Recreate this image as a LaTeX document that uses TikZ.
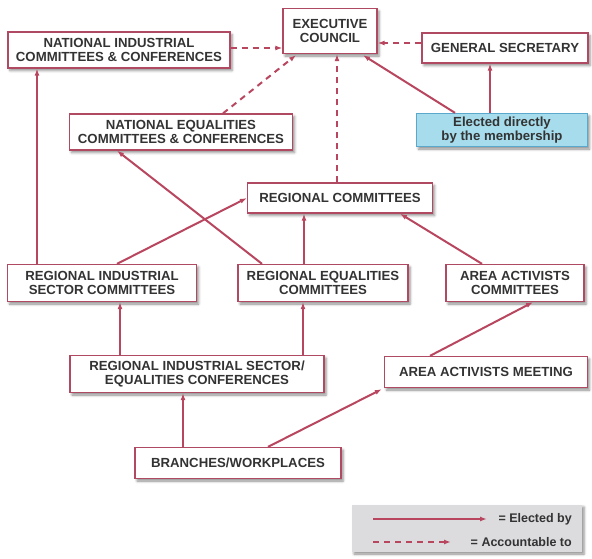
\documentclass[tikz,border=0pt]{standalone}
\usepackage{fontspec}
\setmainfont{Liberation Sans}
\usetikzlibrary{shadows.blur,arrows.meta,calc}
\definecolor{boxline}{HTML}{B04A63}
\definecolor{arrowred}{HTML}{B8465F}
\definecolor{txt}{HTML}{333333}
\definecolor{bluefill}{HTML}{A6DCEC}
\definecolor{blueline}{HTML}{5AA8CC}
\definecolor{legendgray}{HTML}{DCDCDF}
\begin{document}
\begin{tikzpicture}[x=1pt,y=-1pt,
  shade/.style={blur shadow={shadow xshift=2pt, shadow yshift=-2.5pt, shadow blur radius=2.5pt, shadow opacity=45}},
  box/.style={draw=boxline, line width=1.3pt, fill=white, align=center,
    font=\bfseries\fontsize{13.2}{14.5}\selectfont, text=txt, inner sep=0pt, shade},
  bluebox/.style={box, draw=blueline, fill=bluefill},
  el/.style={draw=arrowred, line width=2pt, -{Latex[length=7pt,width=5pt]}},
  acc/.style={el, dash pattern=on 6pt off 5pt},
  legtext/.style={font=\bfseries\fontsize{12.5}{14.5}\selectfont, text=txt, anchor=east, inner sep=0pt},
]
\useasboundingbox (0,0) rectangle (592,558);

% boxes
\node[box, minimum width=94pt,  minimum height=45pt] (exec)     at (330,31)  {EXECUTIVE\\COUNCIL};
\node[box, minimum width=222pt, minimum height=36pt] (natind)   at (119,50)  {NATIONAL INDUSTRIAL\\COMMITTEES \& CONFERENCES};
\node[box, minimum width=166pt, minimum height=30pt] (gensec)   at (505,48)  {GENERAL SECRETARY};
\node[bluebox, minimum width=171pt, minimum height=33pt] (elect) at (502,130) {Elected directly\\by the membership};
\node[box, minimum width=223pt, minimum height=36pt] (nateq)    at (181,132) {NATIONAL EQUALITIES\\COMMITTEES \& CONFERENCES};
\node[box, minimum width=185pt, minimum height=30pt] (regcom)   at (340,198) {REGIONAL COMMITTEES};
\node[box, minimum width=189pt, minimum height=37pt] (regind)   at (102,283) {REGIONAL INDUSTRIAL\\SECTOR COMMITTEES};
\node[box, minimum width=170pt, minimum height=37pt] (regeq)    at (323,283) {REGIONAL EQUALITIES\\COMMITTEES};
\node[box, minimum width=138pt, minimum height=37pt] (areacom)  at (515,283) {AREA ACTIVISTS\\COMMITTEES};
\node[box, minimum width=254pt, minimum height=37pt] (conf)     at (197,374) {REGIONAL INDUSTRIAL SECTOR/\\EQUALITIES CONFERENCES};
\node[box, minimum width=203pt, minimum height=31pt] (areameet) at (486,372) {AREA ACTIVISTS MEETING};
\node[box, minimum width=206pt, minimum height=31pt] (branch)   at (238,463) {BRANCHES/WORKPLACES};

% accountable-to links
\draw[acc] ([yshift=2pt]natind.east) -- ([yshift=-17pt]exec.west);
\draw[acc] ([yshift=5pt]gensec.west) -- ([yshift=-12pt]exec.east);
\draw[acc] ([xshift=42pt]nateq.north) -- ([xshift=-34pt,yshift=-1pt]exec.south);
\draw[acc] ([xshift=-3pt]regcom.north) coordinate (rc) -- (rc |- exec.south);

% elected-by links
\draw[el] ([xshift=-47pt]elect.north) -- ([xshift=33pt,yshift=-1pt]exec.south);
\draw[el] ([xshift=-12pt]elect.north) coordinate (ep) -- (ep |- gensec.south);
\draw[el] ([xshift=-65pt]regind.north) coordinate (ri) -- (ri |- natind.south);
\draw[el] ([xshift=-61pt]regeq.north) -- ([xshift=-64pt]nateq.south);
\draw[el] ([xshift=15pt]regind.north) -- (regcom.west);
\draw[el] ([xshift=-19pt]regeq.north) coordinate (re) -- (re |- regcom.south);
\draw[el] ([xshift=-33pt]areacom.north) -- ([xshift=60pt]regcom.south);
\draw[el] ([xshift=-77pt]conf.north) coordinate (c1) -- (c1 |- regind.south);
\draw[el] ([xshift=106pt]conf.north) coordinate (c2) -- (c2 |- regeq.south);
\draw[el] ([xshift=-55pt]branch.north) coordinate (b1) -- (b1 |- conf.south);
\draw[el] ([xshift=30pt]branch.north) -- ([xshift=-2pt,yshift=-1pt]areameet.south west);
\draw[el] ([xshift=-56pt]areameet.north) -- ([xshift=18pt]areacom.south);

% key
\node[fill=legendgray, minimum width=230pt, minimum height=47pt, inner sep=0pt, shade] (key) at (467,528) {};
\coordinate (k1a) at ([xshift=-94pt,yshift=9pt]key.center);
\coordinate (k1b) at ([xshift=20pt,yshift=9pt]key.center);
\coordinate (k2a) at ([yshift=-23pt]k1a);
\coordinate (k2b) at ([xshift=-36pt,yshift=-23pt]k1b);
\draw[el] (k1a) -- (k1b);
\draw[acc] (k2a) -- (k2b);
\node[legtext] (k1t) at ([xshift=105pt,yshift=9pt]key.center) {= Elected by};
\node[legtext] (k2t) at ([xshift=105pt,yshift=-14pt]key.center) {= Accountable to};
\end{tikzpicture}
\end{document}
